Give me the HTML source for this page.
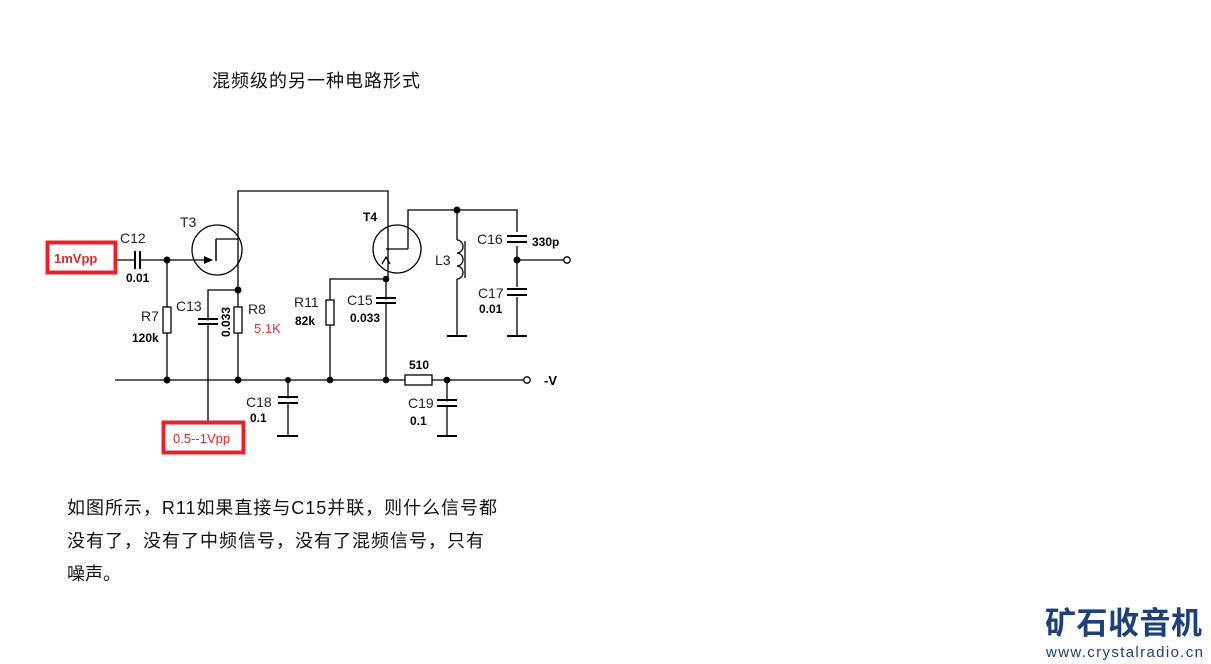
<!DOCTYPE html>
<html><head><meta charset="utf-8"><style>
html,body{margin:0;padding:0;background:#fff;width:1211px;height:664px;overflow:hidden}
svg{display:block}
text{font-family:"Liberation Sans","Noto Sans CJK SC",sans-serif}
.cj{font-family:"Noto Sans CJK SC","WenQuanYi Zen Hei",sans-serif}
.b{font-weight:bold;font-size:12px}
.l{font-size:14px;fill:#222}
</style></head><body>
<svg width="1211" height="664" viewBox="0 0 1211 664" xmlns="http://www.w3.org/2000/svg">
<text class="cj" x="212" y="87" font-size="18" textLength="208" fill="#111">混频级的另一种电路形式</text>

<g stroke="#000" stroke-width="1.3" fill="none">
<!-- input -->
<line x1="117" y1="260" x2="135" y2="260"/>
<line x1="140" y1="260" x2="212" y2="260"/>
<line x1="135" y1="251" x2="135" y2="269" stroke-width="2"/>
<line x1="140" y1="251" x2="140" y2="269" stroke-width="2"/>
<!-- T3 -->
<circle cx="217" cy="250" r="25"/>
<line x1="216" y1="239" x2="216" y2="261" stroke-width="1.5"/>
<line x1="216" y1="239" x2="238" y2="239"/>
<polyline points="238,380 238,191 388,191 388,279"/>
<!-- R7 -->
<line x1="167" y1="260" x2="167" y2="380"/>
<rect x="163" y="307" width="8" height="26" fill="#fff"/>
<!-- R8 -->
<rect x="234" y="307" width="8" height="26" fill="#fff"/>
<!-- C13 -->
<polyline points="238,290 208,290 208,421"/>
<line x1="198" y1="319" x2="218" y2="319" stroke-width="2"/>
<line x1="198" y1="324" x2="218" y2="324" stroke-width="2"/>
<!-- bottom rail -->
<line x1="115" y1="380" x2="405" y2="380"/>
<line x1="432" y1="380" x2="524" y2="380"/>
<rect x="405" y="375" width="27" height="10" fill="#fff"/>
<!-- C18 -->
<line x1="288" y1="380" x2="288" y2="436"/>
<line x1="278" y1="397" x2="298" y2="397" stroke-width="2"/>
<line x1="278" y1="403" x2="298" y2="403" stroke-width="2"/>
<line x1="277" y1="436" x2="298" y2="436" stroke-width="2"/>
<!-- T4 -->
<circle cx="397" cy="249" r="24"/>
<line x1="386" y1="279" x2="386" y2="380"/>
<line x1="386" y1="249" x2="408" y2="249"/>
<polyline points="408,249 408,210 517,210 517,336"/>
<polyline points="382,264 386,257 390,264"/>
<!-- R11 -->
<polyline points="386,279 330,279 330,380"/>
<rect x="326" y="300" width="8" height="25" fill="#fff"/>
<!-- C15 -->
<line x1="376" y1="298" x2="396" y2="298" stroke-width="2"/>
<line x1="376" y1="303" x2="396" y2="303" stroke-width="2"/>
<!-- L3 -->
<line x1="457" y1="210" x2="457" y2="240"/>
<path d="M457,240 a6,6.5 0 0 1 0,13 a6,6.5 0 0 1 0,13 a6,6.5 0 0 1 0,13"/>
<line x1="465" y1="241" x2="465" y2="278"/>
<line x1="457" y1="279" x2="457" y2="336"/>
<line x1="447" y1="336" x2="467" y2="336" stroke-width="2"/>
<!-- C16/C17 -->
<rect x="505" y="232" width="24" height="14" fill="#fff" stroke="none"/>
<line x1="507" y1="236" x2="527" y2="236" stroke-width="2"/>
<line x1="507" y1="242" x2="527" y2="242" stroke-width="2"/>
<rect x="505" y="287" width="24" height="10" fill="#fff" stroke="none"/>
<line x1="507" y1="289" x2="527" y2="289" stroke-width="2"/>
<line x1="507" y1="295" x2="527" y2="295" stroke-width="2"/>
<line x1="507" y1="336" x2="527" y2="336" stroke-width="2"/>
<line x1="517" y1="260" x2="564" y2="260"/>
<circle cx="567" cy="260" r="3.2" fill="#fff"/>
<!-- C19 -->
<line x1="447" y1="380" x2="447" y2="436"/>
<line x1="437" y1="400" x2="457" y2="400" stroke-width="2"/>
<line x1="437" y1="406" x2="457" y2="406" stroke-width="2"/>
<line x1="437" y1="436" x2="457" y2="436" stroke-width="2"/>
<circle cx="527" cy="380" r="3.2" fill="#fff"/>
</g>
<!-- gaps for caps -->
<rect x="280" y="398.5" width="16" height="3.5" fill="#fff"/>
<rect x="378" y="299.5" width="16" height="2.5" fill="#fff"/>
<rect x="439" y="401.5" width="16" height="3.5" fill="#fff"/>
<rect x="200" y="320.5" width="16" height="2.5" fill="#fff"/>
<rect x="509" y="237.5" width="16" height="3.5" fill="#fff"/>
<rect x="509" y="290.5" width="16" height="3.5" fill="#fff"/>
<polygon points="204,256 213,260 204,264" fill="#000"/>
<g fill="#000">
<circle cx="167" cy="260" r="3.5"/><circle cx="238" cy="290" r="3.5"/>
<circle cx="167" cy="380" r="3.5"/><circle cx="238" cy="380" r="3.5"/>
<circle cx="288" cy="380" r="3"/><circle cx="330" cy="380" r="3.3"/>
<circle cx="386" cy="380" r="3.3"/><circle cx="386" cy="279" r="3.3"/>
<circle cx="457" cy="210" r="3.5"/><circle cx="517" cy="260" r="3.5"/>
<circle cx="447" cy="380" r="3.3"/>
</g>
<!-- labels -->
<text class="l" x="120" y="243">C12</text>
<text class="b" x="126" y="282">0.01</text>
<text class="l" x="180" y="227">T3</text>
<text class="l" x="141" y="321">R7</text>
<text class="b" x="132" y="342">120k</text>
<text class="l" x="176" y="311">C13</text>
<text class="b" transform="translate(230,337) rotate(-90)" x="0" y="0">0.033</text>
<text class="l" x="248" y="314">R8</text>
<text x="254" y="333" font-size="13" fill="#e0303a">5.1K</text>
<text class="l" x="294" y="307">R11</text>
<text class="b" x="295" y="325">82k</text>
<text class="b" x="363" y="221">T4</text>
<text class="l" x="347" y="305">C15</text>
<text class="b" x="350" y="322">0.033</text>
<text class="l" x="435" y="265">L3</text>
<text class="l" x="477" y="244">C16</text>
<text class="b" x="532" y="246">330p</text>
<text class="l" x="478" y="298">C17</text>
<text class="b" x="479" y="313">0.01</text>
<text class="b" x="409" y="369">510</text>
<text class="l" x="408" y="408">C19</text>
<text class="b" x="410" y="425">0.1</text>
<text class="l" x="246" y="407">C18</text>
<text class="b" x="250" y="422">0.1</text>
<text x="544" y="385" font-size="13" font-weight="bold">-V</text>
<!-- red boxes -->
<rect x="47.5" y="242.5" width="68" height="30" fill="#fff" stroke="#e8222c" stroke-width="4"/>
<text x="54" y="263" font-size="13" font-weight="bold" fill="#e8222c">1mVpp</text>
<rect x="163.5" y="422.5" width="80" height="30" fill="#fff" stroke="#e8222c" stroke-width="4"/>
<text x="173" y="443" font-size="13" fill="#e8222c">0.5--1Vpp</text>
<!-- paragraph -->
<g class="cj" font-size="18" fill="#111">
<text x="67" y="514" textLength="430">如图所示，R11如果直接与C15并联，则什么信号都</text>
<text x="67" y="547" textLength="417">没有了，没有了中频信号，没有了混频信号，只有</text>
<text x="67" y="580" textLength="54">噪声。</text>
</g>
<!-- logo -->
<text class="cj" x="1045" y="634" font-size="31" font-weight="bold" fill="#1d3f7a" textLength="157">矿石收音机</text>
<text x="1046" y="657" font-size="15" fill="#1d3f7a" textLength="157">www.crystalradio.cn</text>
</svg>
</body></html>
